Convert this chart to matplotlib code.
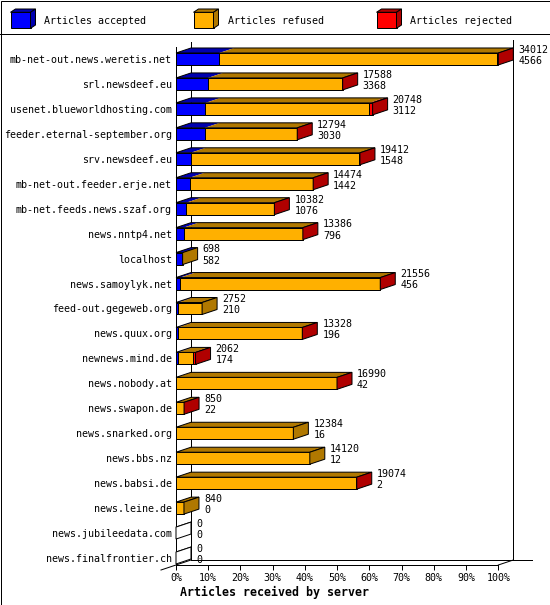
import numpy as np
import matplotlib.pyplot as plt
from matplotlib.patches import Polygon, Rectangle

servers = ["mb-net-out.news.weretis.net", "srl.newsdeef.eu", "usenet.blueworldhosting.com",
           "feeder.eternal-september.org", "srv.newsdeef.eu", "mb-net-out.feeder.erje.net",
           "mb-net.feeds.news.szaf.org", "news.nntp4.net", "localhost", "news.samoylyk.net",
           "feed-out.gegeweb.org", "news.quux.org", "newnews.mind.de", "news.nobody.at",
           "news.swapon.de", "news.snarked.org", "news.bbs.nz", "news.babsi.de",
           "news.leine.de", "news.jubileedata.com", "news.finalfrontier.ch"]
accepted = [4566, 3368, 3112, 3030, 1548, 1442, 1076, 796, 582, 456,
            210, 196, 174, 42, 22, 16, 12, 2, 0, 0, 0]
refused = [29296, 14190, 17306, 9724, 17814, 12992, 9276, 12560, 116, 21040,
           2542, 13112, 1658, 16918, 808, 12368, 14108, 19032, 840, 0, 0]
rejected = [150, 30, 330, 40, 50, 40, 30, 30, 0, 60,
            0, 20, 230, 30, 20, 0, 0, 40, 0, 0, 0]
series_names = ["Articles accepted", "Articles refused", "Articles rejected"]
face_colors = ["#0000FF", "#FFB000", "#FF0000"]
dark_colors = ["#0000B0", "#B07800", "#B00000"]
pct_ticks = list(range(0, 101, 10))

FONT = "DejaVu Sans Mono"
LW = 0.72
W, H = 550, 605


def box3d(ax, segs, top, bot, dx, dy):
    # segs: (x0, x1, face, dark) ; draws front, top and end side faces
    segs = [s for s in segs if s[1] > s[0]]
    for x0, x1, fc, dc in segs:
        ax.add_patch(Rectangle((x0, top), x1 - x0, bot - top, fc=fc, ec="black",
                               lw=LW, clip_on=False, zorder=3))
        ax.add_patch(Polygon([(x0, top), (x1, top), (x1 + dx, top - dy), (x0 + dx, top - dy)],
                             closed=True, fc=dc, ec="none", clip_on=False, zorder=3))
    xs = segs[0][0] if segs else 0
    xe = segs[-1][1] if segs else 0
    side = segs[-1][3] if segs else "white"
    ax.add_patch(Polygon([(xs, top), (xe, top), (xe + dx, top - dy), (xs + dx, top - dy)],
                         closed=True, fill=False, ec="black", lw=LW, clip_on=False, zorder=4))
    ax.add_patch(Polygon([(xe, top), (xe + dx, top - dy), (xe + dx, bot - dy), (xe, bot)],
                         closed=True, fc=side, ec="black", lw=LW, clip_on=False, zorder=4))
    return xe


fig = plt.figure(figsize=(W / 100, H / 100), dpi=100)

# frame + legend strip (pixel units)
bg = fig.add_axes([0, 0, 1, 1])
bg.set_xlim(0, W)
bg.set_ylim(H, 0)
bg.axis("off")
bg.add_patch(Rectangle((0.5, 0.5), W - 1, H - 1, fill=False, ec="black", lw=LW))
bg.plot([0, W], [33.5, 33.5], color="black", lw=LW)
for k, name in enumerate(series_names):
    lx = 10.5 + 183 * k
    box3d(bg, [(lx, lx + 20, face_colors[k], dark_colors[k])], 12.3, 28.3, 5, 3.3)
    bg.text(lx + 34, 20.5, name, fontsize=7.2, family=FONT, va="center", ha="left")

# main plot
ax = fig.add_axes([176 / W, (H - 565) / H, 322.3 / W, 518 / H])
n = len(servers)
ytop, ybot = -0.48, 20.28
ax.set_xlim(0, 100)
ax.set_ylim(ybot, ytop)
DX = 15 / 322.3 * 100
DY = 5 * (ybot - ytop) / 518
HH = 0.24

total = np.array(accepted) + np.array(refused) + np.array(rejected)
scale = 100.0 / total.max()

for i in range(n):
    vals = [accepted[i], refused[i], rejected[i]]
    segs = []
    x = 0.0
    for k, v in enumerate(vals):
        segs.append((x, x + v * scale, face_colors[k], dark_colors[k]))
        x += v * scale
    xe = box3d(ax, segs, i - HH, i + HH, DX, DY)
    ax.annotate(str(total[i]), (xe + DX, i), xytext=(3.6, 6.6), textcoords="offset points",
                fontsize=7.2, family=FONT, va="center", ha="left", annotation_clip=False)
    ax.annotate(str(accepted[i]), (xe + DX, i), xytext=(3.6, -1.4), textcoords="offset points",
                fontsize=7.2, family=FONT, va="center", ha="left", annotation_clip=False)

# 3d walls
kw = dict(color="black", lw=LW, clip_on=False, zorder=2)
ax.plot([DX, DX], [ytop - DY, ybot - DY], **kw)
ax.plot([100 + DX, 100 + DX], [ytop - 1.4 * DY, ybot - DY], **kw)
ax.plot([DX, 100 + DX + 5.9], [ybot - DY, ybot - DY], **kw)
ax.plot([100, 100 + DX], [ybot, ybot - DY], **kw)
ax.plot([-DX, DX], [ybot + DY, ybot - DY], **kw)

for s in ["top", "right"]:
    ax.spines[s].set_visible(False)
for s in ["left", "bottom"]:
    ax.spines[s].set_linewidth(LW)
ax.patch.set_visible(False)
ax.set_xticks(pct_ticks)
ax.set_xticklabels([f"{t}%" for t in pct_ticks], fontsize=7.2, family=FONT)
ax.set_yticks(range(n))
ax.set_yticklabels(servers, fontsize=7.2, family=FONT)
ax.tick_params(axis="x", length=3.6, width=LW, pad=2.2, direction="out")
ax.tick_params(axis="y", length=0, pad=2.9)

fig.text(180 / W, 1 - 592 / H, "Articles received by server", fontsize=8.4,
         family=FONT, fontweight="bold", va="center", ha="left")

fig.savefig("out.png", dpi=100)
